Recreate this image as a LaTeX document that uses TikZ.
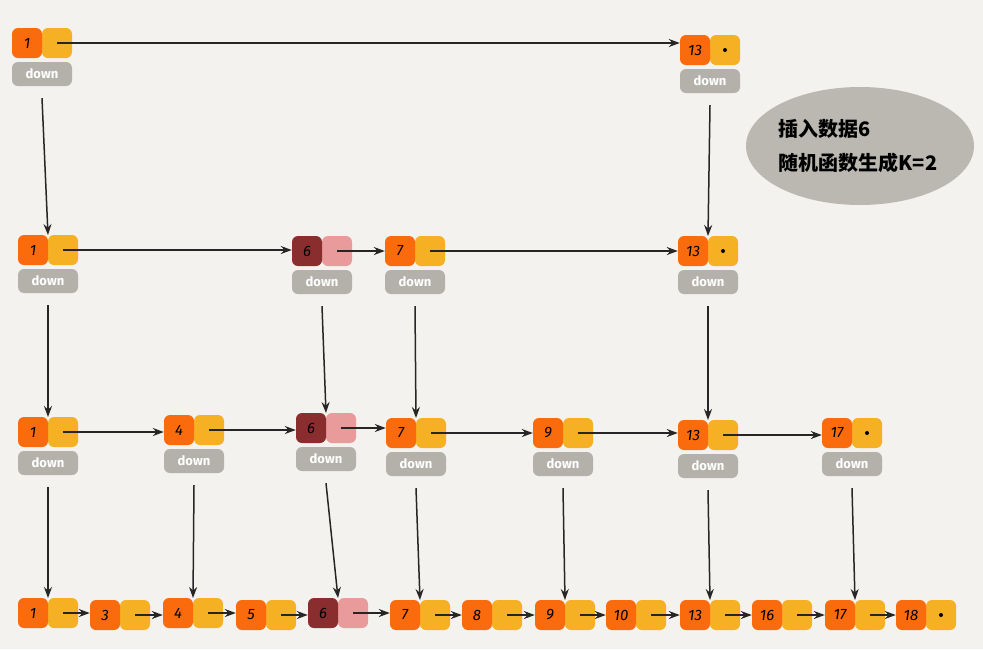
\documentclass[tikz,border=0pt]{standalone}
\usepackage{fontspec}
\setmainfont{Fira Sans}
\newfontfamily\cjk{Noto Sans CJK SC}
\usetikzlibrary{arrows.meta,shapes.geometric}
\definecolor{bg}{HTML}{F4F2EE}
\definecolor{org}{HTML}{F96B0C}
\definecolor{yel}{HTML}{F5B123}
\definecolor{gry}{HTML}{B3B1A9}
\definecolor{dred}{HTML}{8A2D2F}
\definecolor{pnk}{HTML}{E99A9B}
\definecolor{bub}{HTML}{BAB8B0}
\tikzset{
 sq/.style={rectangle,rounded corners=6pt,minimum width=30pt,minimum height=30pt,inner sep=0pt,font=\itshape\fontsize{15}{15}\selectfont},
 db/.style={rectangle,rounded corners=6pt,fill=gry,minimum width=60pt,minimum height=24pt,inner sep=0pt,text=white,font=\bfseries\fontsize{13}{13}\selectfont},
 ar/.style={-{Stealth[length=11pt,width=8pt]},line width=1.5pt,black!85}
}
\newcommand\LN[6]{%
 \node[sq,fill=#6] (#1-r) at (#2+45,#3+15) {};
 \node[sq,fill=#5] (#1-l) at (#2+15,#3+15) {#4};
 \coordinate (#1-t) at (#2+30,#3);}
\newcommand\DB[3]{\node[db] (#1-d) at (#2+30,#3+46) {down};}
\begin{document}
\begin{tikzpicture}[x=1pt,y=-1pt]
\fill[bg] (0,0) rectangle (983,649);
\useasboundingbox (0,0) rectangle (983,649);
% bubble
\node[ellipse,fill=bub,minimum width=228pt,minimum height=118pt] (bubble) at (860,146) {};
\node[font=\cjk\bfseries\fontsize{20}{34}\selectfont,align=left] (btext) at (858,146) {插入数据6\\随机函数生成K=2};
% row 1
\LN{a1}{12}{28}{1}{org}{yel}\DB{a1}{12}{28}
\LN{a13}{680}{35}{13}{org}{yel}\DB{a13}{680}{35}
% row 2
\LN{b1}{18}{235}{1}{org}{yel}\DB{b1}{18}{235}
\LN{b6}{292}{236}{6}{dred}{pnk}\DB{b6}{292}{236}
\LN{b7}{385}{236}{7}{org}{yel}\DB{b7}{385}{236}
\LN{b13}{678}{236}{13}{org}{yel}\DB{b13}{678}{236}
% row 3
\LN{c1}{18}{417}{1}{org}{yel}\DB{c1}{18}{417}
\LN{c4}{164}{415}{4}{org}{yel}\DB{c4}{164}{415}
\LN{c6}{296}{413}{6}{dred}{pnk}\DB{c6}{296}{413}
\LN{c7}{386}{418}{7}{org}{yel}\DB{c7}{386}{418}
\LN{c9}{533}{418}{9}{org}{yel}\DB{c9}{533}{418}
\LN{c13}{678}{420}{13}{org}{yel}\DB{c13}{678}{420}
\LN{c17}{822}{418}{17}{org}{yel}\DB{c17}{822}{418}
% row 4
\LN{d1}{18}{598}{1}{org}{yel}
\LN{d3}{90}{600}{3}{org}{yel}
\LN{d4}{163}{598}{4}{org}{yel}
\LN{d5}{236}{600}{5}{org}{yel}
\LN{d6}{308}{598}{6}{dred}{pnk}
\LN{d7}{390}{600}{7}{org}{yel}
\LN{d8}{462}{600}{8}{org}{yel}
\LN{d9}{535}{600}{9}{org}{yel}
\LN{d10}{606}{600}{10}{org}{yel}
\LN{d13}{680}{600}{13}{org}{yel}
\LN{d16}{752}{600}{16}{org}{yel}
\LN{d17}{825}{600}{17}{org}{yel}
\LN{d18}{896}{600}{18}{org}{yel}
% dots
\foreach \n in {a13,b13,c17,d18}{\fill (\n-r.center) circle (2pt);}
% horizontal arrows
\foreach \p/\q in {a1/a13,b1/b6,b6/b7,b7/b13,c1/c4,c4/c6,c6/c7,c7/c9,c9/c13,c13/c17,d1/d3,d3/d4,d4/d5,d5/d6,d6/d7,d7/d8,d8/d9,d9/d10,d10/d13,d13/d16,d16/d17,d17/d18}{
 \draw[ar] (\p-r.center) -- (\p-r.center -| \q-l.west);}
% vertical arrows
\foreach \p/\q in {a1/b1,a13/b13,b1/c1,b6/c6,b7/c7,b13/c13,c1/d1,c4/d4,c6/d6,c7/d7,c9/d9,c13/d13,c17/d17}{
 \draw[ar] ([yshift=-12pt]\p-d.south) -- (\q-t);}
\end{tikzpicture}
\end{document}
